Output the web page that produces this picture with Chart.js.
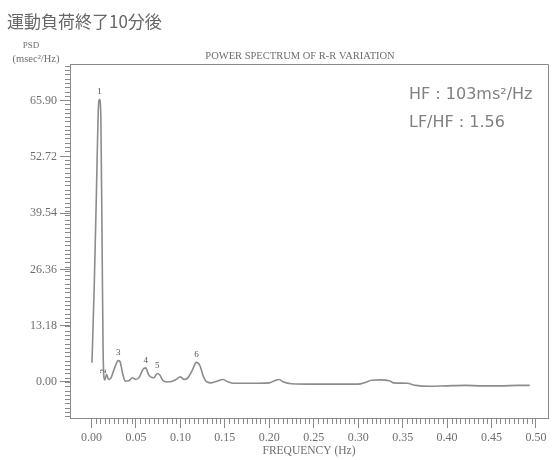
<!DOCTYPE html>
<html>
<head>
<meta charset="utf-8">
<script src="https://cdn.jsdelivr.net/npm/chart.js"></script>
<style>
  html, body { margin: 0; padding: 0; background: #fff; }
  #wrap { position: relative; width: 552px; height: 460px; }
</style>
</head>
<body>
<div id="wrap"><canvas id="psdChart" width="552" height="460"></canvas></div>
<script>
// frequency (Hz) and PSD (msec^2/Hz)
const freqs = [
    0.0005, 0.003, 0.0055, 0.0075, 0.009, 0.0105, 0.012, 0.013, 0.014,
    0.015, 0.017, 0.019, 0.0215, 0.0255, 0.030, 0.032, 0.035, 0.038,
    0.042, 0.046, 0.050, 0.054, 0.058, 0.061, 0.064, 0.0665, 0.070,
    0.074, 0.077, 0.080, 0.085, 0.090, 0.095, 0.100, 0.104, 0.108,
    0.113, 0.118, 0.122, 0.126, 0.130, 0.135, 0.140, 0.148, 0.154,
    0.160, 0.180, 0.200, 0.206, 0.211, 0.216, 0.225, 0.250, 0.280,
    0.300, 0.308, 0.315, 0.325, 0.335, 0.340, 0.355, 0.365, 0.380,
    0.400, 0.420, 0.440, 0.460, 0.480, 0.493
];
const psd = [
    4.5, 22, 44, 63, 66.2, 62, 30, 8, 1.0,
    0.5, 1.8, 0.6, 0.8, 3.0, 5.0, 4.8, 2.0, 0.2,
    0.3, 1.0, 0.6, 1.2, 3.0, 3.3, 1.8, 1.2, 1.0,
    2.0, 1.6, 0.4, 0.0, 0.1, 0.6, 1.2, 0.6, 0.9,
    2.6, 4.6, 3.8, 1.2, 0.0, -0.2, 0.1, 0.6, 0.0,
    -0.3, -0.3, -0.2, 0.3, 0.6, 0.0, -0.4, -0.5, -0.5,
    -0.5, -0.1, 0.4, 0.5, 0.3, -0.2, -0.3, -0.8, -1.0,
    -0.9, -0.8, -0.9, -0.9, -0.8, -0.8
];

// numbered peaks
const peakNames = ["1", "2", "3", "4", "5", "6"];
const peakFreqs = [0.009, 0.017, 0.030, 0.061, 0.074, 0.118];

const xTicks = [0, 0.05, 0.10, 0.15, 0.20, 0.25, 0.30, 0.35, 0.40, 0.45, 0.50];
const yTicks = [0, 13.18, 26.36, 39.54, 52.72, 65.90];

const heading = "運動負荷終了10分後";
const chartTitle = "POWER SPECTRUM OF R-R VARIATION";
const hfText = "HF : 103ms²/Hz";
const ratioText = "LF/HF : 1.56";

const serif = "'Liberation Serif', 'DejaVu Serif', serif";
const tickGray = "#8a8a8a";
const textGray = "#6e6e6e";

// short ticks between the labelled ones, plus the top/right frame and all free text
const extrasPlugin = {
    id: "extras",
    afterDraw(chart) {
        const ctx = chart.ctx;
        const area = chart.chartArea;
        const xs = chart.scales.x;
        const ys = chart.scales.y;
        ctx.save();

        ctx.strokeStyle = tickGray;
        ctx.lineWidth = 1;
        ctx.beginPath();
        ctx.moveTo(area.left, area.top + 0.5);
        ctx.lineTo(area.right + 0.5, area.top + 0.5);
        ctx.lineTo(area.right + 0.5, area.bottom);
        ctx.stroke();

        ctx.beginPath();
        for (let i = 0; i <= 100; i++) {
            if (i % 10 === 0) continue;
            const px = Math.round(xs.getPixelForValue(i * 0.005)) + 0.5;
            ctx.moveTo(px, area.bottom);
            ctx.lineTo(px, area.bottom + 6);
        }
        for (let v = -8; v <= 74; v++) {
            const py = Math.round(ys.getPixelForValue(v)) + 0.5;
            ctx.moveTo(area.left - 5, py);
            ctx.lineTo(area.left, py);
        }
        ctx.stroke();

        // peak numbers, placed from the plotted data
        ctx.fillStyle = "#555";
        ctx.font = "9px " + serif;
        ctx.textAlign = "center";
        ctx.textBaseline = "bottom";
        peakFreqs.forEach((f, i) => {
            const idx = freqs.indexOf(f);
            const px = xs.getPixelForValue(f);
            const py = ys.getPixelForValue(psd[idx]);
            if (peakNames[i] === "2") {
                ctx.save();
                ctx.translate(px - 3, py - 3);
                ctx.rotate(-Math.PI / 2);
                ctx.textBaseline = "middle";
                ctx.fillText(peakNames[i], 0, 0);
                ctx.restore();
            } else {
                ctx.fillText(peakNames[i], px, py - 3);
            }
        });

        ctx.textBaseline = "middle";
        ctx.textAlign = "left";
        ctx.fillStyle = "#666";
        ctx.font = "17px 'Noto Sans CJK JP'";
        ctx.fillText(heading, 7, 22);

        ctx.fillStyle = textGray;
        ctx.textAlign = "center";
        ctx.font = "9px " + serif;
        ctx.fillText("PSD", 31, 46);
        ctx.font = "10.5px " + serif;
        ctx.fillText("(msec²/Hz)", 36, 59);

        ctx.font = "10.5px " + serif;
        ctx.fillText(chartTitle, 300, 56);

        ctx.textAlign = "left";
        ctx.fillStyle = "#808080";
        ctx.font = "16px 'DejaVu Sans'";
        ctx.fillText(hfText, 409, 95);
        ctx.fillText(ratioText, 409, 123);

        ctx.restore();
    }
};

const ctx = document.getElementById("psdChart");
new Chart(ctx, {
    type: "line",
    data: {
        labels: freqs,
        datasets: [{
            data: freqs.map((f, i) => ({ x: f, y: psd[i] })),
            borderColor: "#8c8c8c",
            borderWidth: 1.6,
            pointRadius: 0,
            cubicInterpolationMode: "monotone",
            fill: false
        }]
    },
    options: {
        responsive: false,
        animation: false,
        layout: { padding: { top: 64, right: 4, bottom: 0, left: 0 } },
        plugins: {
            legend: { display: false },
            tooltip: { enabled: false }
        },
        scales: {
            x: {
                type: "linear",
                min: -0.0242,
                max: 0.5135,
                afterBuildTicks: (scale) => { scale.ticks = xTicks.map(v => ({ value: v })); },
                afterFit: (scale) => { scale.height = 42; },
                grid: { drawOnChartArea: false, tickLength: 10, color: tickGray },
                border: { display: true, color: tickGray, width: 1 },
                ticks: {
                    padding: 3,
                    color: textGray,
                    font: { family: serif, size: 12 },
                    maxRotation: 0,
                    autoSkip: false,
                    callback: (v) => v.toFixed(2)
                },
                title: {
                    display: true,
                    text: "FREQUENCY (Hz)",
                    color: textGray,
                    font: { family: serif, size: 11.5 },
                    padding: { top: 0, bottom: 2 }
                }
            },
            y: {
                min: -8.43,
                max: 74.44,
                afterBuildTicks: (scale) => { scale.ticks = yTicks.map(v => ({ value: v })); },
                afterFit: (scale) => { scale.width = 70; },
                grid: { drawOnChartArea: false, tickLength: 10, color: tickGray },
                border: { display: true, color: tickGray, width: 1 },
                ticks: {
                    padding: 3,
                    color: textGray,
                    font: { family: serif, size: 12 },
                    autoSkip: false,
                    callback: (v) => v.toFixed(2)
                }
            }
        }
    },
    plugins: [extrasPlugin]
});
</script>
</body>
</html>
